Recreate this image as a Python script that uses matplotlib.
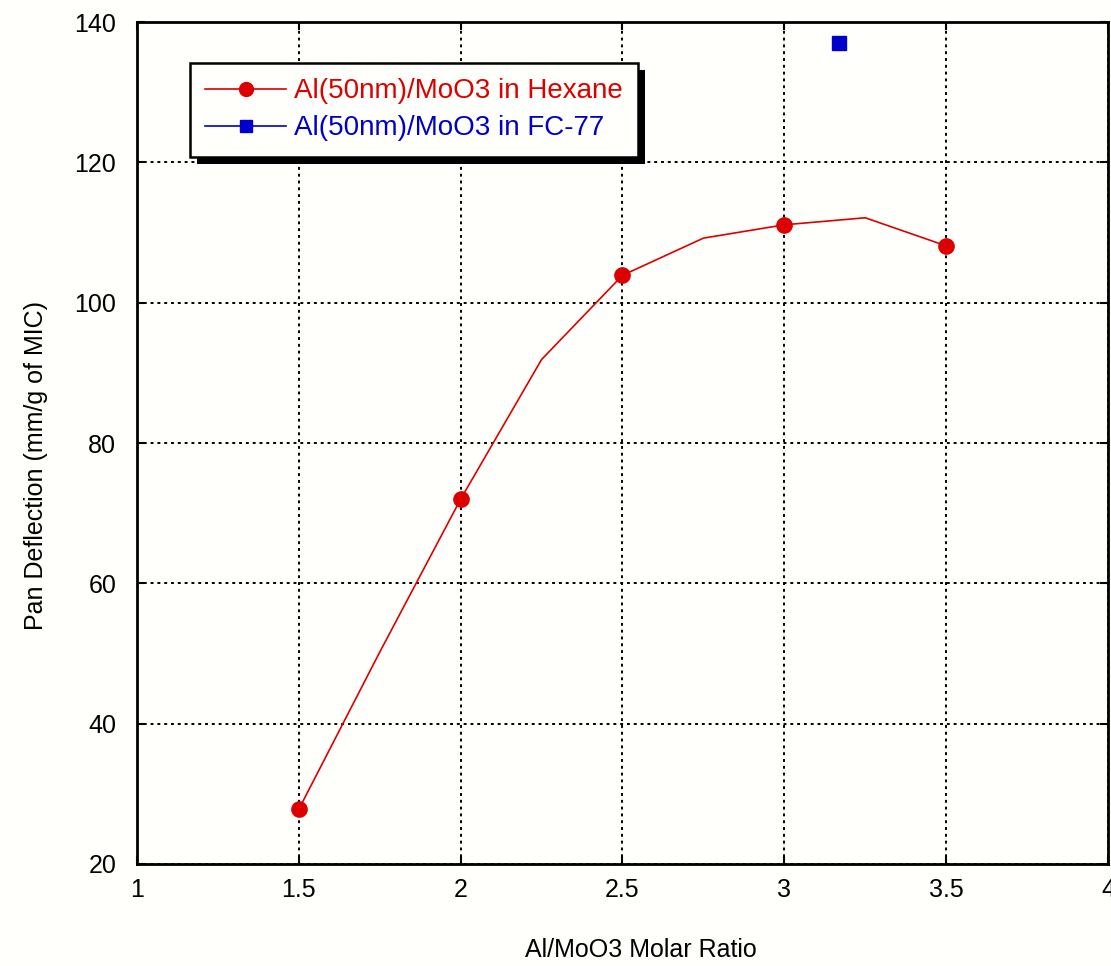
import matplotlib
matplotlib.use("Agg")
import matplotlib.pyplot as plt
import matplotlib.patches as patches

plt.rcParams['font.family'] = ['Liberation Sans', 'DejaVu Sans']

# hexane series (markers only at measured ratios, line through spline vertices)
hexane_x = [1.5, 2.0, 2.5, 3.0, 3.5]
hexane_y = [27.8, 72.0, 103.9, 111.1, 108.1]
curve_x = [1.5, 1.75, 2.0, 2.25, 2.5, 2.75, 3.0, 3.25, 3.5]
curve_y = [27.8, 50.2, 72.0, 91.9, 103.9, 109.2, 111.1, 112.1, 108.1]

# FC-77 series
fc77_x = [3.17]
fc77_y = [137.0]

xticks = [1, 1.5, 2, 2.5, 3, 3.5, 4]
xtick_labels = ['1', '1.5', '2', '2.5', '3', '3.5', '4']
yticks = [20, 40, 60, 80, 100, 120, 140]

red = '#dd0000'
blue = '#0000cc'
bg = '#fffffb'

fig = plt.figure(figsize=(11.11, 9.66), dpi=100, facecolor=bg)
ax = fig.add_axes([0.1233, 0.1056, 0.874, 0.8716], facecolor=bg)

ax.plot(curve_x, curve_y, color=red, lw=1.2, zorder=3)
ax.plot(hexane_x, hexane_y, 'o', color=red, ms=11, zorder=4)
hex_handle, = ax.plot([], [], '-o', color=red, lw=1.2, ms=10)
ax.plot(fc77_x, fc77_y, 's', color=blue, ms=10, zorder=4)
fc_handle, = ax.plot([], [], '-s', color=blue, lw=1.2, ms=9)

ax.set_xlim(1, 4)
ax.set_ylim(20, 140)
ax.set_xticks(xticks)
ax.set_xticklabels(xtick_labels)
ax.set_yticks(yticks)
ax.grid(True, color='black', lw=1.4, linestyle=(0, (1.5, 2)))
ax.tick_params(direction='in', length=6, width=1.5, top=True, right=True,
               labelsize=18)
ax.tick_params(axis='y', pad=15)
ax.tick_params(axis='x', pad=10)
for s in ax.spines.values():
    s.set_linewidth(2)

ax.set_xlabel('Al/MoO3 Molar Ratio', fontsize=18)
ax.set_ylabel('Pan Deflection (mm/g of MIC)', fontsize=18)
ax.xaxis.set_label_coords(0.519, -0.088)
ax.yaxis.set_label_coords(-0.092, 0.473)

leg = ax.legend([hex_handle, fc_handle],
                ['Al(50nm)/MoO3 in Hexane', 'Al(50nm)/MoO3 in FC-77'],
                loc='upper left', bbox_to_anchor=(0.0546, 0.9513), borderaxespad=0,
                fontsize=20, handlelength=2.9, handletextpad=0.3,
                labelspacing=0.4, borderpad=0.55, fancybox=False,
                framealpha=1, edgecolor='black')
leg.get_frame().set_linewidth(1.8)
leg.get_frame().set_facecolor(bg)
for txt, c in zip(leg.get_texts(), [red, blue]):
    txt.set_color(c)

# drop shadow of the legend box
fig.canvas.draw()
bb = leg.get_window_extent().transformed(ax.transAxes.inverted())
dx = 7 / (ax.bbox.width)
dy = 7 / (ax.bbox.height)
shadow = patches.Rectangle((bb.x0 + dx, bb.y0 - dy), bb.width, bb.height,
                           transform=ax.transAxes, facecolor='black',
                           edgecolor='none', zorder=4.9, clip_on=False)
ax.add_patch(shadow)

fig.savefig('out.png', dpi=100, facecolor=bg)
